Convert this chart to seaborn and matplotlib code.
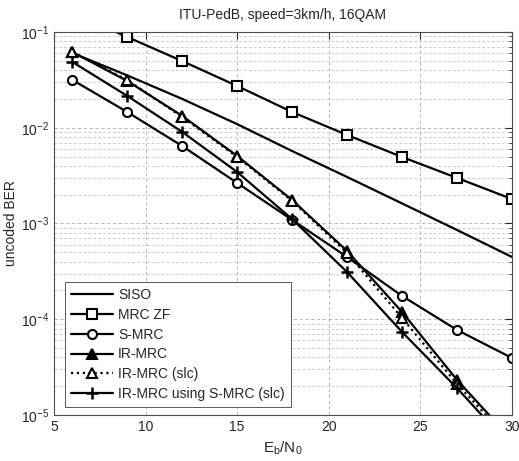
import matplotlib
matplotlib.use("Agg")
import matplotlib.pyplot as plt
import numpy as np
import pandas as pd
import seaborn as sns
from matplotlib.ticker import LogLocator, NullFormatter

# Eb/N0 points (dB)
ebn0 = [6, 9, 12, 15, 18, 21, 24, 27, 30]

# uncoded BER
siso = [0.0604, 0.0352, 0.0200, 0.0109, 0.00571, 0.00306, 0.00162, 0.000855, 0.000447]
mrc_zf = [0.158, 0.0887, 0.0497, 0.0273, 0.0146, 0.0084, 0.00495, 0.00299, 0.0018]
s_mrc = [0.0316, 0.0146, 0.00644, 0.00265, 0.00109, 0.000447, 0.000175, 7.73e-5, 3.94e-5]
ir_mrc = [0.0618, 0.0308, 0.0133, 0.00507, 0.00176, 0.000516, 0.000119, 2.32e-5, 5.5e-6]
ir_mrc_slc = [0.0618, 0.0315, 0.01295, 0.00495, 0.00172, 0.000492, 0.000103, 2.11e-5, 5.1e-6]
ir_mrc_smrc = [0.0487, 0.0215, 0.00904, 0.00345, 0.00111, 0.000311, 7.36e-5, 1.91e-5, 4.5e-6]

labels = ["SISO", "MRC ZF", "S-MRC", "IR-MRC", "IR-MRC (slc)", "IR-MRC using S-MRC (slc)"]
series = [siso, mrc_zf, s_mrc, ir_mrc, ir_mrc_slc, ir_mrc_smrc]

styles = {
    "SISO": dict(marker=None, linestyle="-"),
    "MRC ZF": dict(marker="s", linestyle="-", markerfacecolor="white"),
    "S-MRC": dict(marker="o", linestyle="-", markerfacecolor="white"),
    "IR-MRC": dict(marker="^", linestyle="-", markerfacecolor="black"),
    "IR-MRC (slc)": dict(marker="^", linestyle=":", markerfacecolor="white"),
    "IR-MRC using S-MRC (slc)": dict(marker="+", linestyle="-", markersize=8, markeredgewidth=1.8),
}

sns.set_style("white")
plt.rcParams["font.family"] = ["Liberation Sans", "DejaVu Sans"]

fig = plt.figure(figsize=(5.19, 4.61), dpi=100)
ax = fig.add_axes([0.104, 0.0998, 0.8825, 0.8308])

for name, vals in zip(labels, series):
    df = pd.DataFrame({"ebn0": ebn0, "ber": vals})
    kw = dict(color="black", linewidth=1.6, markersize=6.5, markeredgecolor="black",
              markeredgewidth=1.5)
    kw.update(styles[name])
    sns.lineplot(data=df, x="ebn0", y="ber", ax=ax, label=name, **kw)

ax.set_yscale("log")
ax.set_xlim(5, 30)
ax.set_ylim(1e-5, 1e-1)
ax.set_xticks([5, 10, 15, 20, 25, 30])
ax.yaxis.set_major_locator(LogLocator(base=10, numticks=10))
ax.yaxis.set_minor_locator(LogLocator(base=10, subs=np.arange(2, 10), numticks=20))
ax.yaxis.set_minor_formatter(NullFormatter())

ax.grid(True, which="major", axis="both", color="0.68", linestyle=(0, (4, 3)), linewidth=0.6)
ax.grid(True, which="minor", axis="y", color="0.72", linestyle=(0, (4, 3)), linewidth=0.5)

ax.tick_params(which="both", direction="in", top=True, right=True, labelsize=10)
ax.tick_params(which="major", length=5, width=0.8)
ax.tick_params(which="minor", length=2.5, width=0.6)
for sp in ax.spines.values():
    sp.set_visible(True)
    sp.set_color("0.3")
    sp.set_linewidth(0.8)

ax.set_title("ITU-PedB, speed=3km/h, 16QAM", fontsize=10, pad=9)
ax.set_xlabel(r"E$_\mathregular{b}$/N$_\mathregular{0}$", fontsize=11, labelpad=4)
ax.set_ylabel("uncoded BER", fontsize=10, labelpad=2)

leg = ax.legend(loc="lower left", bbox_to_anchor=(0.008, 0.002), fontsize=10,
                handlelength=3.0, handletextpad=0.4, labelspacing=0.42,
                borderpad=0.45, fancybox=False, framealpha=1, edgecolor="0.35")
leg.get_frame().set_linewidth(0.7)

fig.savefig("out.png", dpi=100)
